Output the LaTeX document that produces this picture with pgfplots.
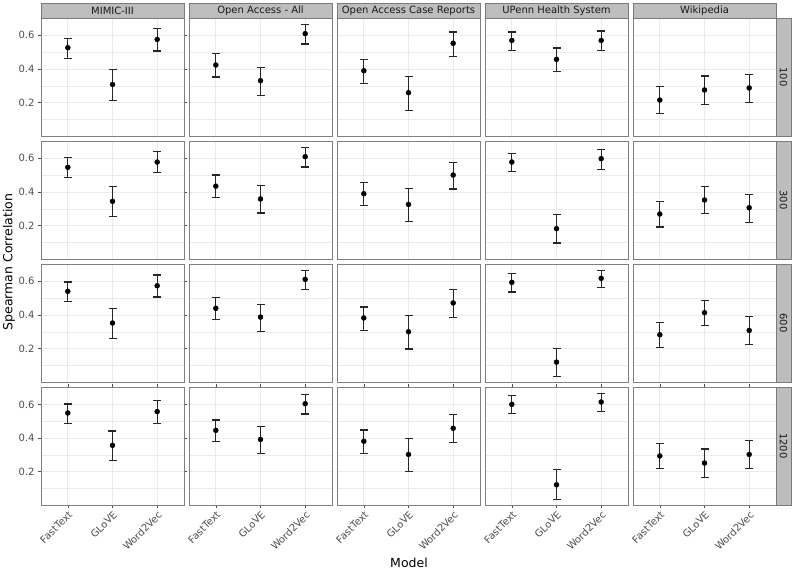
\documentclass[border=0pt]{standalone}
\usepackage{pgfplots}
\pgfplotsset{compat=1.18}
\usepackage{fontspec}
\setmainfont{DejaVu Sans}
\definecolor{stripfill}{HTML}{BDBDBD}
\definecolor{stripline}{HTML}{7A7A7A}
\definecolor{gridc}{HTML}{EBEBEB}
\definecolor{tickc}{HTML}{4D4D4D}
\pgfplotsset{
  base/.style={
    anchor=north west, width=143pt, height=118pt, scale only axis,
    xmin=0.4, xmax=3.6, ymin=0.003, ymax=0.703,
    xtick={1,2,3}, xticklabels={FastText,GLoVE,Word2Vec},
    ytick={0.2,0.4,0.6}, minor ytick={0.1,0.3,0.5,0.7},
    grid=both,
    major grid style={gridc, line width=0.8pt},
    minor grid style={gridc, line width=0.4pt},
    axis line style={draw=black!50, line width=0.8pt},
    tick align=outside, major tick length=3pt, minor tick length=0pt,
    tick style={tickc, line width=0.6pt},
    /pgf/number format/assume math mode=true,
    /pgf/number format/fixed, /pgf/number format/precision=1,
    yticklabel style={font=\fontsize{10}{11}\selectfont, text=tickc},
    xticklabel style={font=\fontsize{10}{11}\selectfont, text=tickc, rotate=45, anchor=north east, inner sep=1.5pt},
    axis background/.style={fill=white},
  },
  notleft/.style={yticklabels={}, every y tick/.append style={draw=none}},
  notbottom/.style={xticklabels={}, every x tick/.append style={draw=none}},
}
\newcommand{\panel}[4]{%
\begin{axis}[base, at={({41pt+#1*148pt},{552pt-#2*123pt})}, #3]
\addplot[black, mark=*, mark size=2.5pt, only marks,
  error bars/.cd, y dir=both, y explicit,
  error bar style={line width=1.1pt, black!85},
  error mark options={rotate=90, line width=1.1pt, mark size=4pt, black!85}]
  table[x=x, y=y, y error plus expr=\thisrow{hi}-\thisrow{y}, y error minus expr=\thisrow{y}-\thisrow{lo}, row sep=\\]
  {x y lo hi\\ #4};
\end{axis}}
\begin{document}
\begin{tikzpicture}
% row 0: 100
\panel{0}{0}{notbottom}{1 0.527 0.463 0.582\\ 2 0.309 0.215 0.396\\ 3 0.576 0.507 0.638\\}
\panel{1}{0}{notbottom,notleft}{1 0.424 0.353 0.491\\ 2 0.331 0.244 0.411\\ 3 0.610 0.549 0.665\\}
\panel{2}{0}{notbottom,notleft}{1 0.390 0.317 0.456\\ 2 0.260 0.155 0.355\\ 3 0.553 0.472 0.620\\}
\panel{3}{0}{notbottom,notleft}{1 0.570 0.509 0.620\\ 2 0.458 0.387 0.525\\ 3 0.570 0.509 0.626\\}
\panel{4}{0}{notbottom,notleft}{1 0.216 0.137 0.294\\ 2 0.276 0.189 0.359\\ 3 0.288 0.200 0.369\\}
% row 1: 300
\panel{0}{1}{notbottom}{1 0.547 0.485 0.603\\ 2 0.345 0.254 0.432\\ 3 0.578 0.515 0.640\\}
\panel{1}{1}{notbottom,notleft}{1 0.435 0.367 0.501\\ 2 0.359 0.276 0.439\\ 3 0.610 0.549 0.667\\}
\panel{2}{1}{notbottom,notleft}{1 0.390 0.321 0.458\\ 2 0.327 0.224 0.420\\ 3 0.501 0.418 0.576\\}
\panel{3}{1}{notbottom,notleft}{1 0.578 0.521 0.630\\ 2 0.183 0.098 0.268\\ 3 0.598 0.535 0.650\\}
\panel{4}{1}{notbottom,notleft}{1 0.270 0.193 0.343\\ 2 0.353 0.272 0.432\\ 3 0.307 0.222 0.388\\}
% row 2: 600
\panel{0}{2}{notbottom}{1 0.541 0.479 0.596\\ 2 0.353 0.262 0.440\\ 3 0.574 0.507 0.638\\}
\panel{1}{2}{notbottom,notleft}{1 0.440 0.372 0.503\\ 2 0.388 0.305 0.464\\ 3 0.612 0.551 0.667\\}
\panel{2}{2}{notbottom,notleft}{1 0.383 0.311 0.448\\ 2 0.301 0.199 0.396\\ 3 0.472 0.384 0.551\\}
\panel{3}{2}{notbottom,notleft}{1 0.594 0.537 0.644\\ 2 0.121 0.034 0.204\\ 3 0.618 0.562 0.667\\}
\panel{4}{2}{notbottom,notleft}{1 0.283 0.206 0.355\\ 2 0.414 0.337 0.485\\ 3 0.309 0.226 0.390\\}
% row 3: 1200
\panel{0}{3}{}{1 0.549 0.489 0.602\\ 2 0.357 0.268 0.442\\ 3 0.557 0.487 0.622\\}
\panel{1}{3}{notleft}{1 0.446 0.379 0.507\\ 2 0.392 0.311 0.468\\ 3 0.604 0.543 0.659\\}
\panel{2}{3}{notleft}{1 0.381 0.309 0.448\\ 2 0.303 0.200 0.396\\ 3 0.458 0.372 0.539\\}
\panel{3}{3}{notleft}{1 0.600 0.545 0.650\\ 2 0.123 0.036 0.212\\ 3 0.614 0.557 0.663\\}
\panel{4}{3}{notleft}{1 0.294 0.218 0.367\\ 2 0.252 0.165 0.335\\ 3 0.303 0.218 0.383\\}
% strips
\foreach \c/\name in {0/MIMIC-III,1/Open Access - All,2/Open Access Case Reports,3/UPenn Health System,4/Wikipedia}{
  \draw[fill=stripfill, draw=stripline, line width=0.8pt] ({41pt+\c*148pt},552pt) rectangle ++(143pt,15pt);
  \node[font=\fontsize{10}{11}\selectfont, text=black!90] at ({41pt+\c*148pt+71.5pt},559.5pt) {\name};
}
\foreach \r/\name in {0/100,1/300,2/600,3/1200}{
  \draw[fill=stripfill, draw=stripline, line width=0.8pt] (776pt,{552pt-\r*123pt}) rectangle ++(15pt,-118pt);
  \node[font=\fontsize{10}{11}\selectfont, text=black!90, rotate=-90] at (783.5pt,{552pt-\r*123pt-59pt}) {\name};
}
\node[font=\fontsize{12.5}{13}\selectfont, rotate=90] at (9pt,308pt) {Spearman Correlation};
\node[font=\fontsize{12.5}{13}\selectfont] at (409pt,7pt) {Model};
\pgfresetboundingbox
\path[use as bounding box] (0,0) rectangle (795pt,570pt);
\end{tikzpicture}
\end{document}
